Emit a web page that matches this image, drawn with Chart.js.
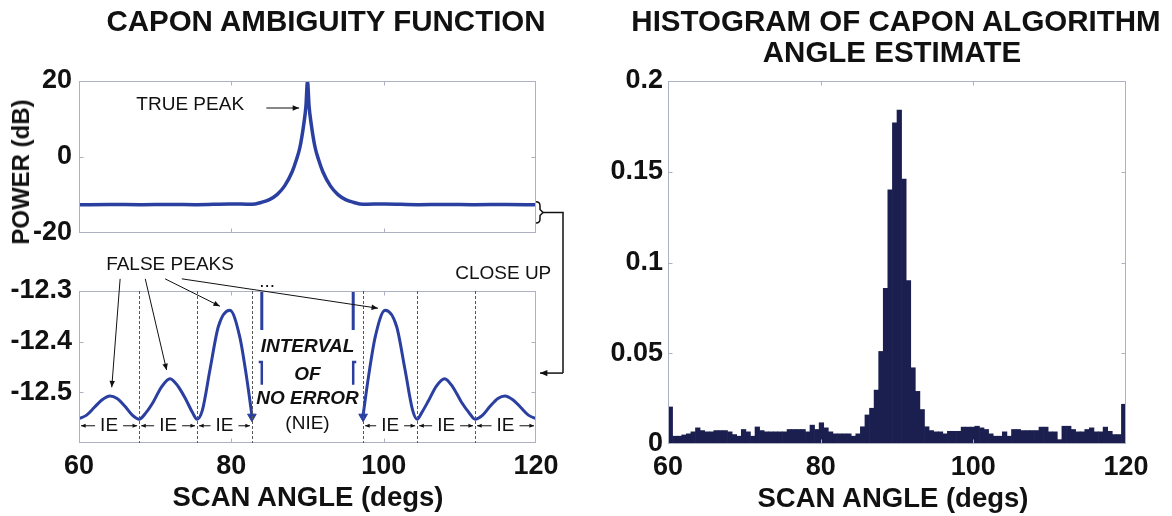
<!DOCTYPE html>
<html>
<head>
<meta charset="utf-8">
<title>Capon ambiguity function</title>
<script src="https://cdn.jsdelivr.net/npm/chart.js@4.4.1/dist/chart.umd.min.js"></script>
<style>
    html, body { margin: 0; padding: 0; background: #fff; }
    #figure { position: relative; width: 1172px; height: 516px; overflow: hidden; font-family: 'Liberation Sans', Arial, sans-serif; color: #111; }
    #figure canvas { position: absolute; left: 0; top: 0; }
    .label { position: absolute; white-space: nowrap; line-height: 1; transform: translate(-50%, -50%); font-weight: bold; }
    .title { font-size: 29.5px; }
    .axis { font-size: 27.5px; }
    #power { font-size: 24px; transform: translate(-50%, -50%) rotate(-90deg); }
</style>
</head>
<body>
<div id="figure">
    <canvas id="amb_full" width="1172" height="516"></canvas>
    <canvas id="amb_close" width="1172" height="516"></canvas>
    <canvas id="histogram" width="1172" height="516"></canvas>
    <div class="label title" style="left: 326px; top: 21px;">CAPON AMBIGUITY FUNCTION</div>
    <div class="label title" style="left: 896px; top: 21px;">HISTOGRAM OF CAPON ALGORITHM</div>
    <div class="label title" style="left: 892px; top: 52px;">ANGLE ESTIMATE</div>
    <div class="label" id="power" style="left: 21px; top: 172px;">POWER (dB)</div>
    <div class="label axis" style="left: 308px; top: 497px;">SCAN ANGLE (degs)</div>
    <div class="label axis" style="left: 893px; top: 498px;">SCAN ANGLE (degs)</div>
</div>
<script>
// ---- values ----
// full ambiguity function (dB)
const AMB_ANGLES = [60, 64, 68, 72, 75.5, 79.8, 82.7, 84, 85, 86, 87, 88, 88.5, 89, 89.5, 89.8, 90, 90.2, 90.5, 91, 91.5, 92, 93, 94, 95, 96, 97.3, 100.2, 104.4, 108, 112, 116, 120]
const AMB_POWER = [-12.55, -12.51, -12.55, -12.47, -12.55, -12.34, -12.45, -11.9, -11.2, -9.9, -7.6, -3.8, -1.0, 2.5, 8.5, 13.5, 20, 13.5, 8.5, 2.5, -1.0, -3.8, -7.6, -9.9, -11.2, -11.9, -12.45, -12.34, -12.55, -12.47, -12.55, -12.51, -12.55]

// close up, left and right of the interval of no error
const CLOSE_L_ANGLES = [60, 61, 62, 63, 64.07, 65, 66, 67, 67.9, 68.8, 69.75, 70.8, 71.95, 73.0, 74.1, 74.9, 75.5, 76.2, 77.2, 78.3, 79.8, 81.1, 82.0, 82.7]
const CLOSE_L_POWER = [-12.552, -12.545, -12.530, -12.515, -12.507, -12.512, -12.527, -12.545, -12.553, -12.540, -12.519, -12.490, -12.473, -12.488, -12.516, -12.540, -12.553, -12.535, -12.455, -12.370, -12.338, -12.390, -12.470, -12.545]
const CLOSE_R_ANGLES = [97.3, 98.0, 98.9, 100.2, 101.7, 102.8, 103.8, 104.4, 105.0, 105.9, 106.9, 108.0, 109.1, 110.2, 111.2, 112.0, 113.0, 114.0, 115.0, 115.9, 117.0, 118.0, 119.0, 120.0]
const CLOSE_R_POWER = [-12.545, -12.470, -12.390, -12.338, -12.370, -12.455, -12.535, -12.553, -12.540, -12.516, -12.488, -12.473, -12.490, -12.519, -12.540, -12.553, -12.545, -12.527, -12.512, -12.507, -12.515, -12.530, -12.545, -12.552]

// main lobe sides showing through the close up
const NIE_EDGE_ANGLES = [84.0, 96.0]
const NIE_UPPER_SPAN = [-12.28, -12.377]
const NIE_LOWER_SPAN = [-12.44, -12.485]
const NIE_MARK_ANGLES = [82.7, 97.3]
const NIE_MARK_POWER = -12.548

// interval-of-error boundaries
const IE_EDGES = [60, 67.9, 75.5, 82.7, 97.3, 104.4, 112.0, 120]

// false peak arrows: tail (under the label) and tip
const FALSE_TAIL_ANGLES = [65.4, 68.7, 71.3, 73.5]
const FALSE_TIP_ANGLES = [64.3, 71.5, 78.5, 99.25]
const FALSE_TIP_POWER = [-12.49, -12.456, -12.33, -12.334]

// histogram of the angle estimate, 100 bins of 0.6 deg from 60 to 120
const HIST_START = 60
const HIST_BIN = 0.6
const HIST_VALUES = [
    0.0204, 0.0043, 0.0043, 0.0050, 0.0056, 0.0067, 0.0089, 0.0074, 0.0067, 0.0067,
    0.0074, 0.0074, 0.0074, 0.0067, 0.0052, 0.0043, 0.0080, 0.0067, 0.0043, 0.0094,
    0.0074, 0.0067, 0.0067, 0.0067, 0.0067, 0.0067, 0.0080, 0.0080, 0.0080, 0.0080,
    0.0067, 0.0104, 0.0080, 0.0117, 0.0089, 0.0067, 0.0056, 0.0056, 0.0056, 0.0056,
    0.0043, 0.0056, 0.0095, 0.0160, 0.0197, 0.0297, 0.0510, 0.0857, 0.1400, 0.1770,
    0.1840, 0.1460, 0.0900, 0.0420, 0.0290, 0.0190, 0.0095, 0.0074, 0.0067, 0.0067,
    0.0056, 0.0070, 0.0070, 0.0070, 0.0093, 0.0093, 0.0093, 0.0098, 0.0089, 0.0080,
    0.0056, 0.0043, 0.0043, 0.0067, 0.0043, 0.0080, 0.0080, 0.0074, 0.0074, 0.0074,
    0.0074, 0.0093, 0.0093, 0.0067, 0.0067, 0.0024, 0.0098, 0.0098, 0.0080, 0.0067,
    0.0067, 0.0080, 0.0089, 0.0067, 0.0067, 0.0093, 0.0070, 0.0052, 0.0052, 0.0219
]

// ---- look ----
const FIG_W = 1172, FIG_H = 516
const FONT = "'Liberation Sans', Arial, sans-serif"
const TICK_FONT = { family: FONT, size: 27, weight: 'bold' }
const NOTE_FONT = `19px ${FONT}`
const CURVE = '#2a3fa0'
const NAVY = '#1b1f50'
const FRAME = '#aeb1c2'
const INK = '#111'

function pts(xs, ys) {
    return xs.map((x, i) => ({ x: x, y: ys[i] }))
}

function arrow(ctx, x1, y1, x2, y2, head = 7) {
    ctx.beginPath()
    ctx.moveTo(x1, y1)
    ctx.lineTo(x2, y2)
    ctx.stroke()
    let a = Math.atan2(y2 - y1, x2 - x1)
    ctx.beginPath()
    ctx.moveTo(x2, y2)
    ctx.lineTo(x2 - head * Math.cos(a - 0.4), y2 - head * Math.sin(a - 0.4))
    ctx.lineTo(x2 - head * Math.cos(a + 0.4), y2 - head * Math.sin(a + 0.4))
    ctx.closePath()
    ctx.fill()
}

// box round the plot with small inward tick marks, like matlab
const frame_plugin = {
    id: 'frame',
    afterDatasetsDraw(chart) {
        const { ctx, chartArea: a, scales } = chart
        let l = Math.round(a.left) + 0.5, r = Math.round(a.right) - 0.5
        let t = Math.round(a.top) + 0.5, b = Math.round(a.bottom) - 0.5
        ctx.save()
        ctx.strokeStyle = FRAME
        ctx.lineWidth = 1
        ctx.strokeRect(l, t, r - l, b - t)
        ctx.beginPath()
        scales.x.ticks.forEach(tk => {
            if (tk.value <= scales.x.min || tk.value >= scales.x.max) return
            let px = Math.round(scales.x.getPixelForValue(tk.value)) + 0.5
            ctx.moveTo(px, b); ctx.lineTo(px, b - 4)
            ctx.moveTo(px, t); ctx.lineTo(px, t + 4)
        })
        scales.y.ticks.forEach(tk => {
            if (tk.value <= scales.y.min + 1e-9 || tk.value >= scales.y.max - 1e-9) return
            let py = Math.round(scales.y.getPixelForValue(tk.value)) + 0.5
            ctx.moveTo(l, py); ctx.lineTo(l + 4, py)
            ctx.moveTo(r, py); ctx.lineTo(r - 4, py)
        })
        ctx.stroke()
        ctx.restore()
    }
}
Chart.register(frame_plugin)

// chart area given in page pixels; every canvas covers the whole figure
function base_options(area, x_labels, y_opts) {
    return {
        animation: false,
        responsive: false,
        devicePixelRatio: 1,
        events: [],
        layout: { padding: { left: 0, top: area.top, right: FIG_W - area.right, bottom: 0 } },
        plugins: { legend: { display: false }, tooltip: { enabled: false } },
        scales: {
            x: {
                type: 'linear', min: 60, max: 120, offset: false,
                ticks: { stepSize: 20, display: x_labels, font: TICK_FONT, color: '#111', padding: 7, maxRotation: 0, autoSkip: false },
                grid: { display: false, drawTicks: false }, border: { display: false },
                afterFit: scale => { scale.height = FIG_H - area.bottom }
            },
            y: Object.assign({
                type: 'linear',
                grid: { display: false, drawTicks: false }, border: { display: false },
                afterFit: scale => { scale.width = area.left }
            }, y_opts)
        }
    }
}

// ---- full ambiguity function ----
const TRUE_PEAK_LABEL = [74.6, 13.7]
const TRUE_PEAK_ARROW = [84.6, 88.9, 12.9]
const BRACKET_SPAN = [-11.8, -17.4]

const full_notes = {
    id: 'full_notes',
    afterDraw(chart) {
        const { ctx, chartArea: a, scales: { x, y } } = chart
        ctx.save()
        ctx.fillStyle = INK
        ctx.strokeStyle = INK
        ctx.font = NOTE_FONT
        ctx.textAlign = 'center'
        ctx.textBaseline = 'middle'
        ctx.fillText('TRUE PEAK', x.getPixelForValue(TRUE_PEAK_LABEL[0]), y.getPixelForValue(TRUE_PEAK_LABEL[1]))
        ctx.lineWidth = 1.2
        let ay = y.getPixelForValue(TRUE_PEAK_ARROW[2])
        arrow(ctx, x.getPixelForValue(TRUE_PEAK_ARROW[0]), ay, x.getPixelForValue(TRUE_PEAK_ARROW[1]), ay, 7)

        // bracket marking the part shown in the close up
        let y1 = y.getPixelForValue(BRACKET_SPAN[0]), y2 = y.getPixelForValue(BRACKET_SPAN[1])
        let ym = (y1 + y2) / 2, bx = a.right + 4
        ctx.lineWidth = 1.5
        ctx.beginPath()
        ctx.moveTo(a.right, y1)
        ctx.quadraticCurveTo(bx, y1, bx, y1 + 4)
        ctx.lineTo(bx, ym - 3)
        ctx.lineTo(bx + 3, ym)
        ctx.lineTo(bx, ym + 3)
        ctx.lineTo(bx, y2 - 4)
        ctx.quadraticCurveTo(bx, y2, a.right, y2)
        ctx.stroke()
        ctx.restore()
    }
}

const full_chart = new Chart(document.getElementById('amb_full'), {
    type: 'line',
    data: {
        datasets: [{
            data: pts(AMB_ANGLES, AMB_POWER),
            borderColor: CURVE, borderWidth: 3.5, pointRadius: 0,
            cubicInterpolationMode: 'monotone', borderJoinStyle: 'round'
        }]
    },
    options: base_options({ left: 79, top: 81, right: 536, bottom: 233 }, false, {
        min: -20, max: 20,
        ticks: { stepSize: 20, font: TICK_FONT, color: '#111', padding: 7 }
    }),
    plugins: [full_notes]
})

// ---- close up ----
const FALSE_LABEL = [71.95, -12.2485]
const FALSE_TAIL_POWER = -12.276
const CLOSE_UP_LABEL = [115.7, -12.266]
const DOTS_LABEL = [84.7, -12.282]
const NIE_TEXT_ANGLE = 90
const NIE_LINES = [['INTERVAL', -12.411], ['OF', -12.466], ['NO ERROR', -12.512]]
const NIE_SHORT = ['(NIE)', -12.562]
const IE_ROW_POWER = -12.566
const CONNECTOR_END = -12.462
const BRACKET_MID = (BRACKET_SPAN[0] + BRACKET_SPAN[1]) / 2

const close_notes = {
    id: 'close_notes',
    afterDraw(chart) {
        const { ctx, chartArea: a, scales: { x, y } } = chart
        ctx.save()
        // dashed interval boundaries
        ctx.strokeStyle = '#555'
        ctx.lineWidth = 1
        ctx.setLineDash([3, 2])
        ctx.beginPath()
        IE_EDGES.slice(1, -1).forEach(e => {
            let px = Math.round(x.getPixelForValue(e)) + 0.5
            ctx.moveTo(px, a.top)
            ctx.lineTo(px, a.bottom)
        })
        ctx.stroke()
        ctx.setLineDash([])

        ctx.fillStyle = INK
        ctx.strokeStyle = INK
        ctx.font = NOTE_FONT
        ctx.textAlign = 'center'
        ctx.textBaseline = 'middle'

        // IE labels with arrows out to the boundaries
        let iy = y.getPixelForValue(IE_ROW_POWER)
        for (let i = 0; i < IE_EDGES.length - 1; i++) {
            if (IE_EDGES[i] == 82.7) continue
            let l = x.getPixelForValue(IE_EDGES[i]), r = x.getPixelForValue(IE_EDGES[i + 1])
            let c = (l + r) / 2
            ctx.fillText('IE', c, iy)
            arrow(ctx, c - 14, iy, l + 2, iy, 5)
            arrow(ctx, c + 14, iy, r - 2, iy, 5)
        }

        // interval of no error
        ctx.font = `italic bold 19px ${FONT}`
        NIE_LINES.forEach(ln => ctx.fillText(ln[0], x.getPixelForValue(NIE_TEXT_ANGLE), y.getPixelForValue(ln[1])))
        ctx.font = NOTE_FONT
        ctx.fillText(NIE_SHORT[0], x.getPixelForValue(NIE_TEXT_ANGLE), y.getPixelForValue(NIE_SHORT[1]))

        // false peaks
        ctx.fillText('FALSE PEAKS', x.getPixelForValue(FALSE_LABEL[0]), y.getPixelForValue(FALSE_LABEL[1]))
        ctx.lineWidth = 1
        FALSE_TAIL_ANGLES.forEach((t, i) => {
            arrow(ctx, x.getPixelForValue(t), y.getPixelForValue(FALSE_TAIL_POWER),
                x.getPixelForValue(FALSE_TIP_ANGLES[i]), y.getPixelForValue(FALSE_TIP_POWER[i]), 7)
        })
        ctx.fillText('...', x.getPixelForValue(DOTS_LABEL[0]), y.getPixelForValue(DOTS_LABEL[1]))
        ctx.fillText('CLOSE UP', x.getPixelForValue(CLOSE_UP_LABEL[0]), y.getPixelForValue(CLOSE_UP_LABEL[1]))

        // connector from the bracket of the full plot
        let top_y = full_chart.scales.y.getPixelForValue(BRACKET_MID)
        let end_y = y.getPixelForValue(CONNECTOR_END)
        let cx = a.right + 27
        ctx.lineWidth = 1.5
        ctx.beginPath()
        ctx.moveTo(a.right + 7, top_y)
        ctx.lineTo(cx, top_y)
        ctx.lineTo(cx, end_y)
        ctx.stroke()
        arrow(ctx, cx, end_y, a.right + 4, end_y, 8)
        ctx.restore()
    }
}

function nie_segments(span, hook) {
    let out = []
    NIE_EDGE_ANGLES.forEach((e, i) => {
        if (hook) out.push({ x: e + (i == 0 ? -0.4 : 0.4), y: span[0] })
        out.push({ x: e, y: span[0] })
        out.push({ x: e, y: span[1] })
        out.push({ x: e, y: null })
    })
    return out
}

const close_chart = new Chart(document.getElementById('amb_close'), {
    type: 'line',
    data: {
        datasets: [
            { data: pts(CLOSE_L_ANGLES, CLOSE_L_POWER), borderColor: CURVE, borderWidth: 3, pointRadius: 0, cubicInterpolationMode: 'monotone' },
            { data: pts(CLOSE_R_ANGLES, CLOSE_R_POWER), borderColor: CURVE, borderWidth: 3, pointRadius: 0, cubicInterpolationMode: 'monotone' },
            { data: nie_segments(NIE_UPPER_SPAN, false), borderColor: CURVE, borderWidth: 3, pointRadius: 0, spanGaps: false },
            { data: nie_segments(NIE_LOWER_SPAN, true), borderColor: CURVE, borderWidth: 2.5, pointRadius: 0, spanGaps: false },
            {
                data: NIE_MARK_ANGLES.map(a => ({ x: a, y: NIE_MARK_POWER })),
                showLine: false, pointStyle: 'triangle', rotation: 180, pointRadius: 5,
                backgroundColor: CURVE, borderColor: CURVE, borderWidth: 1
            }
        ]
    },
    options: base_options({ left: 79, top: 291, right: 536, bottom: 443 }, true, {
        min: -12.6, max: -12.3,
        ticks: {
            stepSize: 0.1, font: TICK_FONT, color: '#111', padding: 7,
            callback: v => Math.abs(v + 12.6) < 1e-6 ? '' : v.toFixed(1)
        }
    }),
    plugins: [close_notes]
})

// ---- histogram ----
const hist_chart = new Chart(document.getElementById('histogram'), {
    type: 'bar',
    data: {
        datasets: [{
            data: HIST_VALUES.map((v, i) => ({ x: HIST_START + HIST_BIN * (i + 0.5), y: v })),
            backgroundColor: NAVY, borderWidth: 0,
            barPercentage: 1, categoryPercentage: 1
        }]
    },
    options: base_options({ left: 668, top: 81, right: 1126, bottom: 444 }, true, {
        min: 0, max: 0.2,
        ticks: { stepSize: 0.05, font: TICK_FONT, color: '#111', padding: 5, callback: v => String(Math.round(v * 100) / 100) }
    })
})
</script>
</body>
</html>
